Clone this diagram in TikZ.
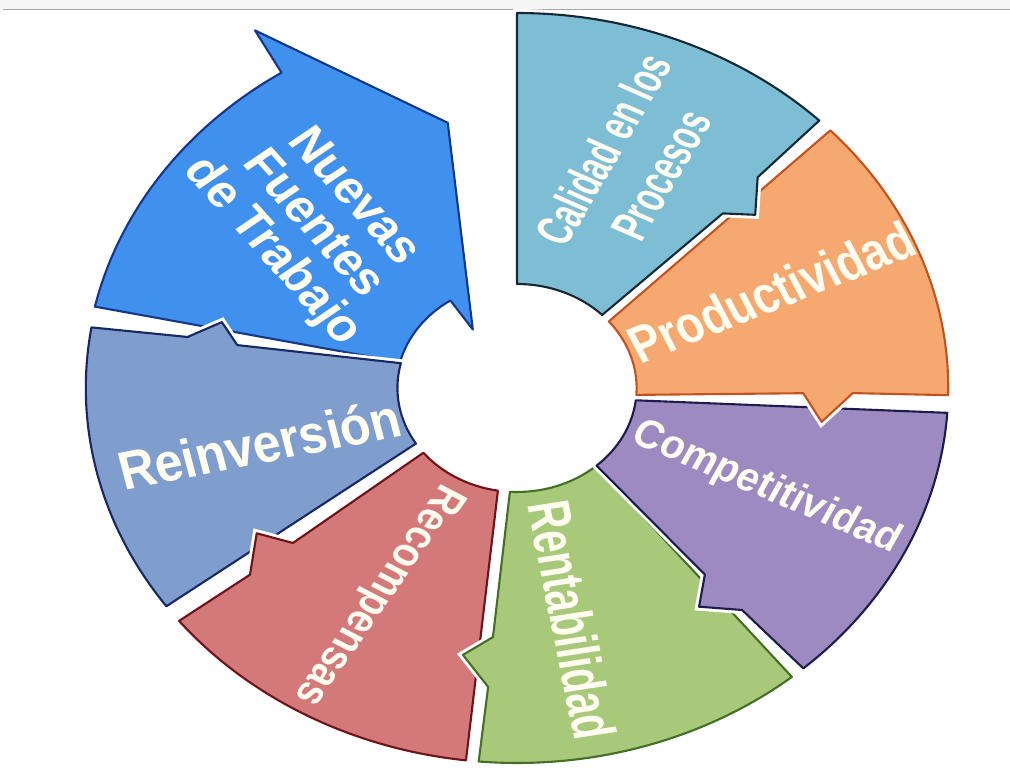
\documentclass[tikz,border=0pt]{standalone}
\usepackage{fontspec}
\setmainfont{Liberation Sans}

\definecolor{calidadfill}{RGB}{126,190,213}
\definecolor{calidadline}{RGB}{22,40,52}
\definecolor{prodfill}{RGB}{245,168,112}
\definecolor{prodline}{RGB}{196,82,30}
\definecolor{compfill}{RGB}{157,138,193}
\definecolor{compline}{RGB}{28,28,78}
\definecolor{rentfill}{RGB}{168,201,122}
\definecolor{rentline}{RGB}{68,112,38}
\definecolor{recfill}{RGB}{212,121,121}
\definecolor{recline}{RGB}{112,18,24}
\definecolor{reinvfill}{RGB}{128,158,205}
\definecolor{reinvline}{RGB}{24,40,100}
\definecolor{nuevasfill}{RGB}{64,144,238}
\definecolor{nuevasline}{RGB}{20,55,140}
\definecolor{labeltext}{RGB}{255,252,240}

\begin{document}
\begin{tikzpicture}
  [x=0.02cm, y=0.02cm, xscale=1.15,
   piece/.style={line width=1.2pt, line join=round,
                 preaction={draw=white, line width=4.5pt}},
   txt/.style={text=labeltext, align=center, inner sep=0pt, transform shape}]
  \useasboundingbox (-449.6,-384) rectangle (428.7,388);
  \fill[gray!8] (-449.6,378.5) rectangle (428.7,388);
  \draw[gray!70, line width=0.6pt] (-447,378.5) -- (428.7,378.5);

  \draw[piece, fill=nuevasfill, draw=nuevasline]
    (167.5:376) arc[start angle=167.5, end angle=123, radius=376]
    -- (122.5:424) -- (102.8:272) -- (123.3:70) -- (123.5:105)
    arc[start angle=123.5, end angle=165.7, radius=105] -- cycle;
  \draw[piece, fill=reinvfill, draw=reinvline]
    (215.6:375) arc[start angle=215.6, end angle=170.7, radius=375]
    -- (169.9:291) -- (165.6:265) -- (170:247) -- (166.2:104)
    arc[start angle=166.2, end angle=212.3, radius=104] -- cycle;
  \draw[piece, fill=recfill, draw=recline]
    (263.2:375) arc[start angle=263.2, end angle=218.4, radius=375]
    -- (218.8:298) -- (212.7:269) -- (218.5:249) -- (218.5:104)
    arc[start angle=218.5, end angle=260.8, radius=104] -- cycle;
  \draw[piece, fill=rentfill, draw=rentline]
    (309.6:375) arc[start angle=309.6, end angle=264.9, radius=375]
    -- (265.2:300) -- (260:271) -- (265.2:250) -- (266.6:104)
    arc[start angle=266.6, end angle=311.4, radius=104] -- cycle;
  \draw[piece, fill=compfill, draw=compline]
    (356.2:375) arc[start angle=356.2, end angle=311.6, radius=375]
    -- (311.4:296) -- (305.9:270) -- (311.2:248) -- (311.7:104)
    arc[start angle=311.7, end angle=353.2, radius=104] -- cycle;
  \draw[piece, fill=prodfill, draw=prodline]
    (43.4:375) arc[start angle=43.4, end angle=-1.1, radius=375]
    -- (-1:292) -- (-7.3:267) -- (-1.2:249) -- (-3.8:104)
    arc[start angle=-3.8, end angle=39.8, radius=104] -- cycle;
  \draw[piece, fill=calidadfill, draw=calidadline]
    (90:375) arc[start angle=90, end angle=45.5, radius=375]
    -- (45.2:297) -- (39.9:270) -- (44.3:250) -- (44.6:104)
    arc[start angle=44.6, end angle=90, radius=104] -- cycle;

  \node[txt, rotate=-52, font=\fontsize{25.5}{25.5}\selectfont\bfseries]
    (nuevas) at (-178,163) {Nuevas\\Fuentes\\de Trabajo};
  \node[txt, rotate=12.8, xscale=0.81, font=\fontsize{30.7}{32}\selectfont\bfseries]
    (reinversion) at (-224,-56) {Reinversión};
  \node[txt, rotate=-121, xscale=0.92, font=\fontsize{22.8}{24}\selectfont\bfseries]
    (recompensas) at (-121,-207) {Recompensas};
  \node[txt, rotate=-80, xscale=0.77, font=\fontsize{29.6}{30}\selectfont\bfseries]
    (rentabilidad) at (48,-232) {Rentabilidad};
  \node[txt, rotate=-26, xscale=0.88, font=\fontsize{22.8}{24}\selectfont\bfseries]
    (competitividad) at (217,-100) {Competitividad};
  \node[txt, rotate=24.5, xscale=0.77, font=\fontsize{29.6}{30}\selectfont\bfseries]
    (productividad) at (221,96) {Productividad};
  \node[txt, rotate=63, xscale=0.68, font=\fontsize{25.6}{32}\selectfont\bfseries]
    (calidad) at (100,226) {Calidad en los\\Procesos};
\end{tikzpicture}
\end{document}
